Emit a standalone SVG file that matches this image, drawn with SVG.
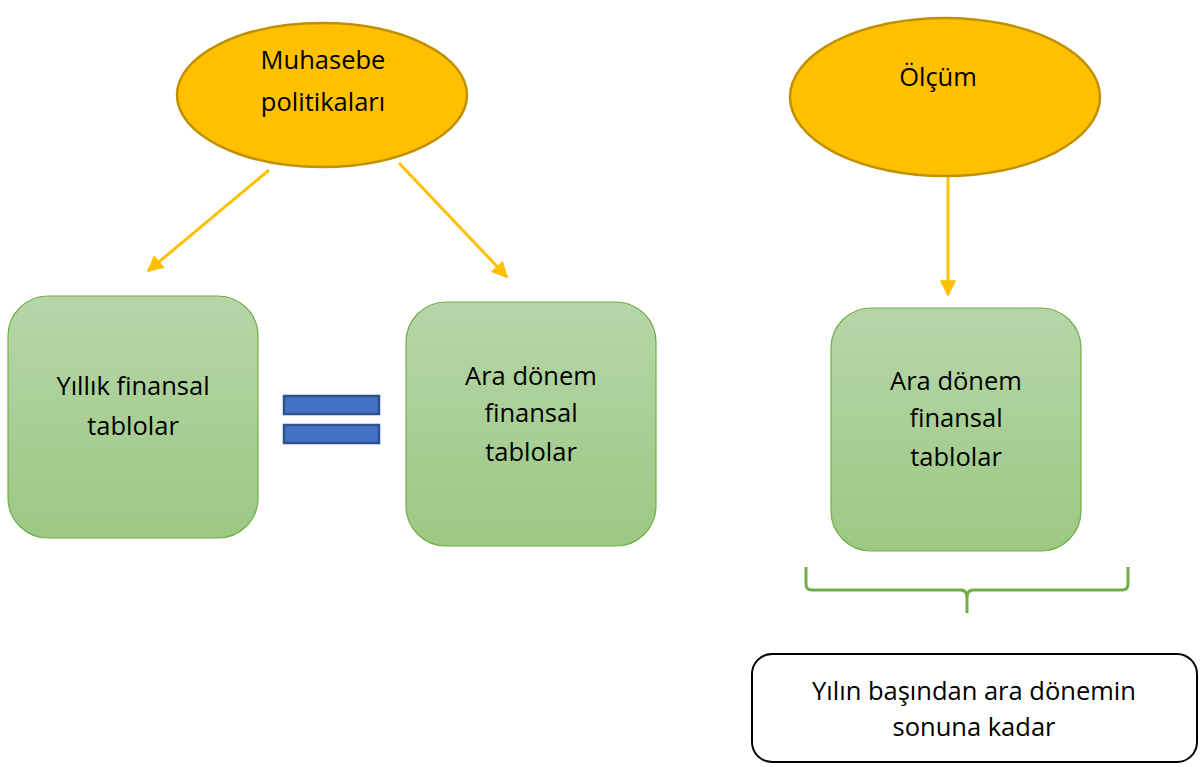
<svg xmlns="http://www.w3.org/2000/svg" width="1203" height="767" viewBox="0 0 1203 767">
  <defs>
    <linearGradient id="greenFill" x1="0" y1="0" x2="0" y2="1">
      <stop offset="0" stop-color="#b6d6a8"/>
      <stop offset="1" stop-color="#9cc883"/>
    </linearGradient>
    <marker id="arrowHead" viewBox="0 0 10 10" refX="9" refY="5" markerWidth="5.5" markerHeight="5.5" orient="auto" markerUnits="strokeWidth">
      <path d="M0,0 L10,5 L0,10 Z" fill="#ffc000"/>
    </marker>
  </defs>
  <style>
    text { font-family: "Open Sans", "Liberation Sans", sans-serif; font-size: 25.5px; fill: #000; text-anchor: middle; }
    .oval { fill: #ffc000; stroke: #c09000; stroke-width: 2.5; }
    .box { fill: url(#greenFill); stroke: #70ad47; stroke-width: 1.2; }
    .bar { fill: #4472c4; stroke: #2f528f; stroke-width: 2.5; }
    .conn { stroke: #ffc000; stroke-width: 3; fill: none; marker-end: url(#arrowHead); }
    .brace { stroke: #70ad47; stroke-width: 3; fill: none; }
  </style>

  <rect width="1203" height="767" fill="#ffffff"/>

  <g id="connectors">
    <line class="conn" x1="269" y1="170" x2="148" y2="271"/>
    <line class="conn" x1="399" y1="163" x2="507" y2="277"/>
    <line class="conn" x1="948" y1="176" x2="948" y2="295"/>
  </g>

  <g id="muhasebe">
    <ellipse class="oval" cx="322" cy="95" rx="145" ry="72"/>
    <text x="323" y="69">Muhasebe</text>
    <text x="323" y="111">politikaları</text>
  </g>

  <g id="olcum">
    <ellipse class="oval" cx="945" cy="97" rx="155" ry="79"/>
    <text x="938" y="86">Ölçüm</text>
  </g>

  <g id="yillik">
    <rect class="box" x="8" y="296" width="250" height="242" rx="40"/>
    <text x="133" y="395">Yıllık finansal</text>
    <text x="133" y="435">tablolar</text>
  </g>

  <g id="esittir">
    <rect class="bar" x="284" y="396" width="95" height="18"/>
    <rect class="bar" x="284" y="425" width="95" height="18"/>
  </g>

  <g id="ara-donem-1">
    <rect class="box" x="406" y="302" width="250" height="244" rx="40"/>
    <text x="531" y="385">Ara dönem</text>
    <text x="531" y="422">finansal</text>
    <text x="531" y="461">tablolar</text>
  </g>

  <g id="ara-donem-2">
    <rect class="box" x="831" y="308" width="250" height="243" rx="40"/>
    <text x="956" y="390">Ara dönem</text>
    <text x="956" y="427">finansal</text>
    <text x="956" y="466">tablolar</text>
  </g>

  <g id="parantez">
    <path class="brace" d="M806,567 V584 Q806,590 812,590 H961 Q967,590 967,598 V613 M967,598 Q967,590 973,590 H1122 Q1128,590 1128,584 V567"/>
  </g>

  <g id="donem-araligi">
    <rect x="752" y="654" width="445" height="108" rx="20" fill="#ffffff" stroke="#000000" stroke-width="2"/>
    <text x="974" y="700">Yılın başından ara dönemin</text>
    <text x="974" y="736">sonuna kadar</text>
  </g>
</svg>
